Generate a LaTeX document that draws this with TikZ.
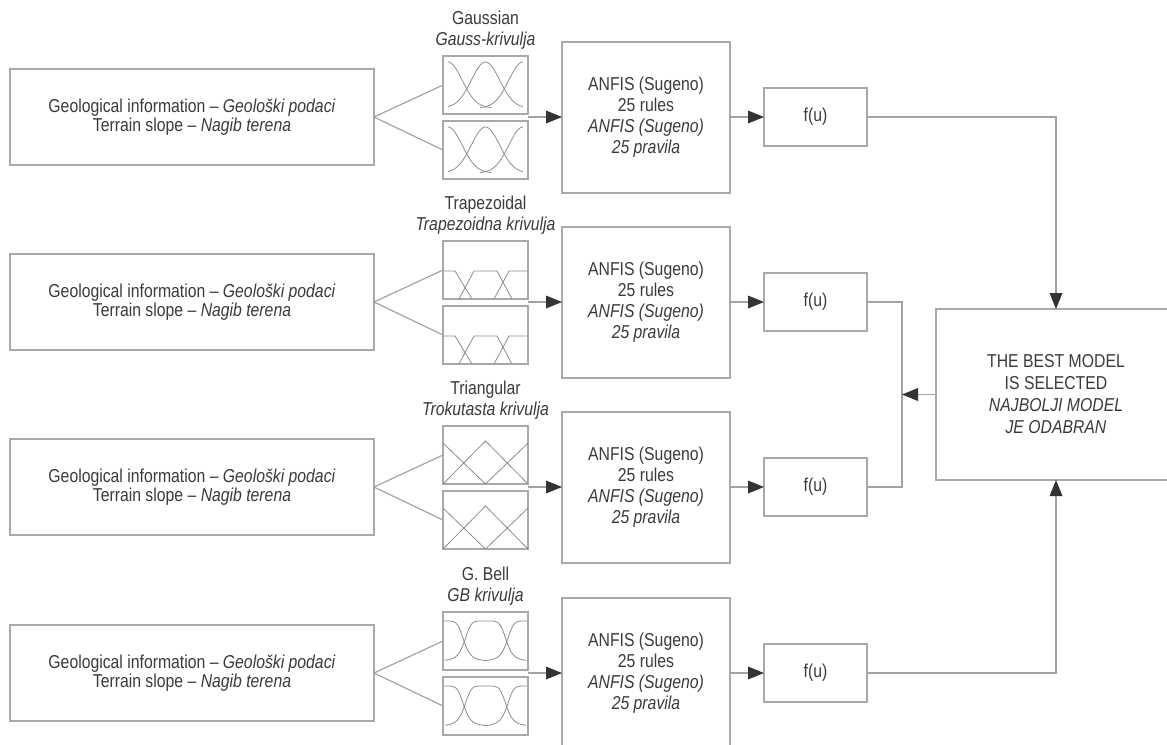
\documentclass[tikz,border=0pt]{standalone}
\usepackage{fontspec}
\setmainfont{Liberation Sans}[FakeStretch=0.845]
\usetikzlibrary{arrows.meta}
\definecolor{boxc}{HTML}{A9A9A9}
\definecolor{linec}{HTML}{A3A3A3}
\definecolor{txtc}{HTML}{3A3A3A}
\definecolor{tipc}{HTML}{333333}
\definecolor{mfc}{HTML}{8C8C8C}
\tikzset{
  bx/.style={draw=boxc, line width=0.9pt, inner sep=0pt, outer sep=0pt, align=center, text=txtc, font=\fontsize{14}{15.75}\selectfont},
  inbox/.style={bx, minimum width=273pt, minimum height=72pt, font=\fontsize{14}{14.25}\selectfont},
  mfbox/.style={bx, minimum width=63.75pt, minimum height=43.5pt},
  anfisbox/.style={bx, minimum width=126pt, minimum height=113.25pt},
  fubox/.style={bx, minimum width=77.25pt, minimum height=43.5pt},
  bestbox/.style={bx, minimum width=180pt, minimum height=128.25pt, font=\fontsize{14}{16.5}\selectfont},
  ttl/.style={align=center, text=txtc, font=\fontsize{14}{15.75}\selectfont, inner sep=0pt},
  conn/.style={draw=linec, line width=0.9pt},
  arr/.style={conn, -{Triangle[length=12pt,width=9.5pt,color=tipc,fill=tipc]}},
  curve/.style={draw=mfc, line width=0.6pt},
  gausscurves/.pic={
    \draw[curve] plot[domain=5:48,samples=40] (\x,{6+46*(1-exp(-((\x-5)*(\x-5))/400))});
    \draw[curve] plot[domain=5:80,samples=60] (\x,{6+46*(1-exp(-((\x-42.5)*(\x-42.5))/400))});
    \draw[curve] plot[domain=37:80,samples=40] (\x,{6+46*(1-exp(-((\x-80)*(\x-80))/400))});
  },
  trapcurves/.pic={
    \draw[curve] (0,30) -- (12,30) -- (29,58);
    \draw[curve] (16,58) -- (31,30) -- (54,30) -- (69,58);
    \draw[curve] (51,58) -- (66,30) -- (85,30);
  },
  tricurves/.pic={
    \draw[curve] (0,17) -- (42.5,58);
    \draw[curve] (0,58) -- (42.5,15) -- (85,58);
    \draw[curve] (42.5,58) -- (85,17);
  },
  bellcurves/.pic={
    \draw[curve] plot[domain=1:44,samples=50] (\x,{9+40*(1-1/(1+((\x*\x)/441)^3))});
    \draw[curve] plot[domain=2:83,samples=80] (\x,{9+40*(1-1/(1+(((\x-42.5)*(\x-42.5))/441)^3))});
    \draw[curve] plot[domain=41:84,samples=50] (\x,{9+40*(1-1/(1+(((\x-85)*(\x-85))/441)^3))});
  },
}
\begin{document}
\begin{tikzpicture}[x=0.75pt,y=-0.75pt]
\useasboundingbox (0,0) rectangle (1167,744);

% rows
\foreach \r/\c/\ta/\tb in {1/117/Gaussian/Gauss-krivulja, 2/302/Trapezoidal/Trapezoidna krivulja, 3/487/Triangular/Trokutasta krivulja, 4/673/G. Bell/GB krivulja}{
  \node[inbox] (in\r) at (192,\c) {Geological information – \textit{Geološki podaci}\\Terrain slope – \textit{Nagib terena}};
  \node[ttl] (t\r) at (485.5,\c-86.5) {\ta\\\textit{\tb}};
  \node[mfbox] (mfa\r) at (485.5,\c-32) {};
  \node[mfbox] (mfb\r) at (485.5,\c+33) {};
  \node[anfisbox] (an\r) at (646,\c+0.5) {ANFIS (Sugeno)\\25 rules\\\textit{ANFIS (Sugeno)}\\\textit{25 pravila}};
  \node[fubox] (fu\r) at (815.5,\c) {f(u)};
  \draw[conn] (mfa\r.west) -- (in\r.east) -- (mfb\r.west);
  \draw[arr] (mfa\r.east |- in\r.east) -- (an\r.west |- in\r.east);
  \draw[arr] (an\r.east |- fu\r.west) -- (fu\r.west);
}

% membership function curves
\pic at (mfa1.north west) {gausscurves};
\pic at (mfb1.north west) {gausscurves};
\pic at (mfa2.north west) {trapcurves};
\pic at (mfb2.north west) {trapcurves};
\pic at (mfa3.north west) {tricurves};
\pic at (mfb3.north west) {tricurves};
\pic at (mfa4.north west) {bellcurves};
\pic at (mfb4.north west) {bellcurves};

% selection box
\node[bestbox] (best) at (1056,394.5) {THE BEST MODEL\\IS SELECTED\\\textit{NAJBOLJI MODEL}\\\textit{JE ODABRAN}};
\coordinate (bus) at (902,394.5);

\draw[arr] (fu1.east) -| (best.north);
\draw[arr] (fu4.east) -| (best.south);
\draw[conn] (fu2.east) -| (bus) |- (fu3.east);
\draw[arr] (best.west) -- (bus);
\end{tikzpicture}
\end{document}
